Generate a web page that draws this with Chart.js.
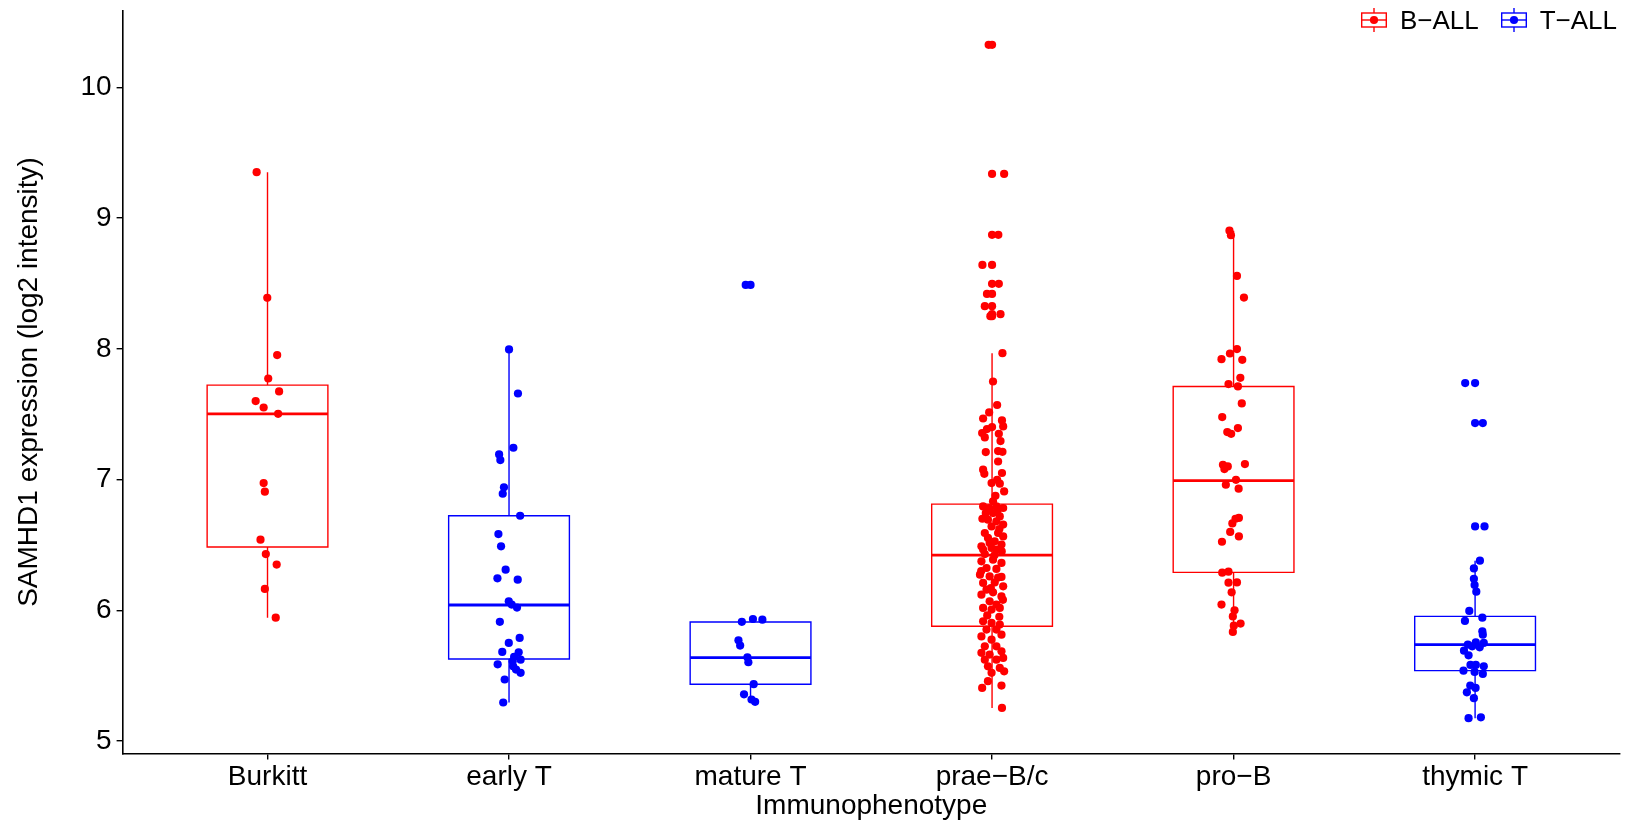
<!DOCTYPE html>
<html>
<head>
<meta charset="utf-8">
<script src="https://cdn.jsdelivr.net/npm/chart.js@4/dist/chart.umd.min.js"></script>
<style>
  html, body { margin: 0; padding: 0; background: #fff; }
  #wrap { position: relative; width: 1632px; height: 825px; }
  #legend {
    position: absolute; top: 7px; right: 15px;
    display: flex; align-items: center;
    font-family: "Liberation Sans", Arial, Helvetica, sans-serif;
    font-size: 26px; line-height: 26px; color: #000;
  }
  #legend .item { display: flex; align-items: center; margin-left: 22px; }
  #legend .item:first-child { margin-left: 0; }
  #legend svg { margin-right: 13px; display: block; }
</style>
</head>
<body>
<div id="wrap">
  <canvas id="c" width="1632" height="825"></canvas>
  <div id="legend"></div>
</div>
<script>
// Immunophenotype groups and their lineage
const categories = ['Burkitt', 'early T', 'mature T', 'prae−B/c', 'pro−B', 'thymic T'];
const lineage = ['B−ALL', 'T−ALL', 'T−ALL', 'B−ALL', 'B−ALL', 'T−ALL'];
const seriesNames = ['B−ALL', 'T−ALL'];
const seriesColors = ['#FF0000', '#0000FF'];
const yTicks = [5, 6, 7, 8, 9, 10];

// SAMHD1 expression (log2 intensity) per sample, with horizontal jitter (category units)
const burkitt = [9.351, 8.390, 7.952, 7.773, 7.674, 7.600, 7.551, 7.503, 6.973, 6.907, 6.540, 6.430, 6.349, 6.163, 5.943];
const burkittJitter = [-0.045, -0.001, 0.040, 0.003, 0.048, -0.049, -0.016, 0.044, -0.016, -0.011, -0.029, -0.007, 0.038, -0.011, 0.034];

const earlyT = [7.995, 7.658, 7.243, 7.192, 7.149, 6.940, 6.891, 6.723, 6.583, 6.489, 6.310, 6.244, 6.234, 6.068, 6.043,
                6.020, 5.911, 5.788, 5.750, 5.681, 5.678, 5.643, 5.622, 5.609, 5.586, 5.571, 5.546, 5.521, 5.470, 5.294];
const earlyTJitter = [0, 0.037, 0.018, -0.041, -0.036, -0.021, -0.026, 0.046, -0.044, -0.033, -0.014, -0.048, 0.036, -0.001, 0.011,
                      0.033, -0.038, 0.044, -0.001, -0.028, 0.040, 0.021, 0.048, 0.015, -0.047, 0.017, 0.029, 0.048, -0.018, -0.024];

const matureT = [8.489, 5.933, 5.928, 5.911, 5.770, 5.730, 5.640, 5.602, 5.434, 5.357, 5.317, 5.299];
const matureTJitter = [-0.020, 0.010, 0.049, -0.036, -0.050, -0.043, -0.013, -0.009, 0.013, -0.027, 0.004, 0.019];

const praeBc = [10.326, 9.338, 8.872, 8.642, 8.497, 8.420, 8.326, 8.265, 8.250, 7.967,
                7.750, 7.570, 7.513, 7.467, 7.452, 7.406, 7.401, 7.386, 7.355, 7.350,
                7.322, 7.294, 7.218, 7.212, 7.210, 7.138, 7.075, 7.050, 7.044, 6.998,
                6.973, 6.968, 6.909, 6.876, 6.833, 6.794, 6.794, 6.782, 6.782, 6.760,
                6.743, 6.743, 6.718, 6.700, 6.693, 6.680, 6.655, 6.641, 6.620, 6.591,
                6.591, 6.565, 6.553, 6.527, 6.515, 6.502, 6.489, 6.476, 6.464, 6.464,
                6.450, 6.430, 6.420, 6.387, 6.374, 6.362, 6.323, 6.316, 6.300, 6.272,
                6.259, 6.255, 6.250, 6.213, 6.209, 6.183, 6.170, 6.157, 6.137, 6.119,
                6.106, 6.080, 6.068, 6.043, 6.018, 6.018, 6.005, 5.960, 5.950, 5.915,
                5.903, 5.890, 5.852, 5.852, 5.813, 5.800, 5.775, 5.724, 5.724, 5.686,
                5.674, 5.661, 5.635, 5.622, 5.622, 5.571, 5.559, 5.533, 5.521, 5.457,
                5.424, 5.406, 5.253];
const praeBcJitter = [-0.014, 0.050, 0.026, -0.040, 0.028, -0.021, -0.030, 0.035, -0.007, 0.043,
                      0.004, 0.021, -0.012, -0.037, 0.041, 0.046, 0.000, -0.021, -0.041, 0.028,
                      -0.030, 0.035, 0.025, 0.043, -0.026, 0.025, -0.037, 0.041, -0.032, 0.021,
                      -0.002, 0.032, 0.050, 0.014, 0.004, -0.037, 0.018, -0.012, 0.046, 0.022,
                      -0.026, 0.004, 0.032, -0.040, -0.017, 0.018, 0.046, -0.002, 0.030, -0.030,
                      0.025, 0.046, -0.017, 0.011, -0.010, 0.039, -0.044, -0.002, -0.037, 0.018,
                      0.040, -0.030, 0.010, 0.004, -0.044, 0.039, -0.023, 0.018, -0.045, -0.050,
                      -0.010, 0.039, 0.025, 0.011, -0.037, 0.046, -0.005, -0.023, 0.004, -0.044,
                      0.039, 0.045, -0.010, 0.018, -0.037, 0.032, -0.002, -0.020, 0.030, -0.037,
                      -0.002, 0.032, -0.023, 0.018, 0.039, -0.044, -0.002, -0.030, 0.018, 0.039,
                      -0.044, -0.010, 0.046, -0.030, 0.018, -0.017, 0.032, 0.050, -0.002, -0.017,
                      0.039, -0.041, 0.041];

const proB = [8.904, 8.869, 8.558, 8.392, 7.998, 7.964, 7.921, 7.916, 7.778, 7.730,
              7.712, 7.582, 7.478, 7.394, 7.363, 7.350, 7.118, 7.113, 7.100, 7.080,
              6.998, 6.960, 6.930, 6.706, 6.700, 6.664, 6.599, 6.565, 6.524, 6.287,
              6.295, 6.211, 6.213, 6.137, 6.043, 6.000, 5.953, 5.898, 5.882, 5.834];
const proBJitter = [-0.017, -0.011, 0.014, 0.043, 0.014, -0.015, -0.050, 0.036, 0.028, -0.021,
                    0.018, 0.034, -0.047, 0.018, -0.026, -0.010, 0.047, -0.044, -0.024, -0.038,
                    0.010, -0.032, 0.021, 0.022, 0.008, -0.005, -0.014, 0.022, -0.048, -0.047,
                    -0.021, -0.021, 0.014, -0.008, -0.050, 0.004, -0.003, 0.029, 0.001, -0.003];

const thymicT = [7.738, 7.432, 6.641, 6.379, 6.320, 6.241, 6.193, 6.142, 5.995, 5.943,
                 5.918, 5.839, 5.813, 5.755, 5.750, 5.737, 5.724, 5.716, 5.691, 5.655,
                 5.582, 5.582, 5.571, 5.538, 5.528, 5.513, 5.424, 5.406, 5.372, 5.327,
                 5.181, 5.174];
const thymicTJitter = [-0.041, 0.032, 0.039, 0.020, -0.005, -0.005, -0.002, 0.005, -0.024, 0.030,
                       -0.042, 0.030, 0.032, 0.003, 0.036, -0.030, -0.012, 0.019, -0.046, -0.027,
                       -0.019, 0.003, 0.036, -0.048, -0.002, 0.032, -0.020, 0.002, -0.034, -0.005,
                       0.024, -0.027];

// Box summaries per group: whisker ends, quartiles and median
const boxLow    = [5.943, 5.294, 5.299, 5.253, 5.834, 5.174];
const boxQ1     = [6.484, 5.627, 5.434, 5.877, 6.290, 5.538];
const boxMedian = [7.503, 6.040, 5.638, 6.421, 6.991, 5.737];
const boxQ3     = [7.722, 6.723, 5.910, 6.812, 7.712, 5.953];
const boxHigh   = [9.351, 7.995, 5.933, 7.967, 8.904, 6.379];

const groupValues = [burkitt, earlyT, matureT, praeBc, proB, thymicT];
const groupJitter = [burkittJitter, earlyTJitter, matureTJitter, praeBcJitter, proBJitter, thymicTJitter];

const FONT = '"Liberation Sans", Arial, Helvetica, sans-serif';
const BOX_HALF = 0.25;
const DOT_R = 4.1;

const colorOf = i => seriesColors[seriesNames.indexOf(lineage[i])];

const datasets = [];
groupValues.forEach((vals, i) => {
  const cx = i + 1;
  const col = colorOf(i);

  // box outline and whiskers (gaps split the path)
  const q1 = boxQ1[i], q3 = boxQ3[i];
  datasets.push({
    type: 'scatter', showLine: true, spanGaps: false, order: 2,
    data: [
      {x: cx - BOX_HALF, y: q1}, {x: cx + BOX_HALF, y: q1}, {x: cx + BOX_HALF, y: q3},
      {x: cx - BOX_HALF, y: q3}, {x: cx - BOX_HALF, y: q1}, {x: cx + BOX_HALF, y: q1},
      {x: cx, y: null},
      {x: cx, y: q3}, {x: cx, y: boxHigh[i]},
      {x: cx, y: null},
      {x: cx, y: q1}, {x: cx, y: boxLow[i]}
    ],
    borderColor: col, borderWidth: 1.4, borderJoinStyle: 'miter', borderCapStyle: 'butt',
    pointRadius: 0, pointHoverRadius: 0, fill: false, tension: 0
  });

  // median bar
  datasets.push({
    type: 'scatter', showLine: true, order: 2,
    data: [{x: cx - BOX_HALF, y: boxMedian[i]}, {x: cx + BOX_HALF, y: boxMedian[i]}],
    borderColor: col, borderWidth: 2.8, borderCapStyle: 'butt',
    pointRadius: 0, pointHoverRadius: 0, fill: false
  });

  // outlying samples at the group centre
  const outliers = vals.filter(v => v > boxHigh[i] + 0.005 || v < boxLow[i] - 0.005);
  datasets.push({
    type: 'scatter', order: 1,
    data: outliers.map(v => ({x: cx, y: v})),
    pointRadius: DOT_R, pointHoverRadius: DOT_R, pointBackgroundColor: col, pointBorderWidth: 0
  });

  // jittered samples
  datasets.push({
    type: 'scatter', order: 0,
    data: vals.map((v, k) => ({x: cx + groupJitter[i][k], y: v})),
    pointRadius: DOT_R, pointHoverRadius: DOT_R, pointBackgroundColor: col, pointBorderWidth: 0
  });
});

Chart.defaults.font.family = FONT;
Chart.defaults.color = '#000';

new Chart(document.getElementById('c'), {
  type: 'scatter',
  data: { datasets },
  options: {
    responsive: false,
    devicePixelRatio: 1,
    animation: false,
    events: [],
    layout: { padding: { top: 10.4, right: 12, left: 0, bottom: 0 } },
    plugins: { legend: { display: false }, tooltip: { enabled: false } },
    scales: {
      x: {
        type: 'linear', min: 0.4, max: 6.6,
        afterBuildTicks: s => { s.ticks = categories.map((c, i) => ({ value: i + 1 })); },
        afterFit: s => { s.height = 71.5; s.paddingLeft = 0; s.paddingRight = 0; },
        ticks: {
          callback: (v, idx) => categories[idx],
          font: { size: 28 }, color: '#000', padding: 1,
          autoSkip: false, maxRotation: 0, minRotation: 0
        },
        grid: { drawOnChartArea: false, drawTicks: true, tickLength: 6, color: '#000', lineWidth: 1.4 },
        border: { display: true, color: '#000', width: 1.6 },
        title: { display: true, text: 'Immunophenotype', font: { size: 28 }, color: '#000',
                 padding: { top: 0, bottom: 2 } }
      },
      y: {
        type: 'linear', min: 4.904, max: 10.589,
        afterBuildTicks: s => { s.ticks = yTicks.map(v => ({ value: v })); },
        afterFit: s => { s.width = 122.6; s.paddingTop = 0; s.paddingBottom = 0; },
        ticks: { font: { size: 28 }, color: '#000', padding: 5, callback: v => String(v) },
        grid: { drawOnChartArea: false, drawTicks: true, tickLength: 6, color: '#000', lineWidth: 1.4 },
        border: { display: true, color: '#000', width: 1.6 },
        title: { display: true, text: 'SAMHD1 expression (log2 intensity)', font: { size: 28 }, color: '#000',
                 padding: { top: 12, bottom: 0 } }
      }
    }
  }
});

// legend: box-and-dot key for each lineage
const legend = document.getElementById('legend');
seriesNames.forEach((name, s) => {
  const col = seriesColors[s];
  const item = document.createElement('div');
  item.className = 'item';
  item.innerHTML =
    '<svg width="26" height="24" viewBox="0 0 26 24">' +
      '<line x1="13" y1="0" x2="13" y2="5" stroke="' + col + '" stroke-width="1.4"/>' +
      '<line x1="13" y1="19" x2="13" y2="24" stroke="' + col + '" stroke-width="1.4"/>' +
      '<rect x="0.7" y="5" width="24.6" height="14" fill="none" stroke="' + col + '" stroke-width="1.4"/>' +
      '<line x1="0.7" y1="12" x2="25.3" y2="12" stroke="' + col + '" stroke-width="1.4"/>' +
      '<circle cx="13" cy="12" r="' + DOT_R + '" fill="' + col + '"/>' +
    '</svg>';
  const label = document.createElement('span');
  label.textContent = name;
  item.appendChild(label);
  legend.appendChild(item);
});
</script>
</body>
</html>
